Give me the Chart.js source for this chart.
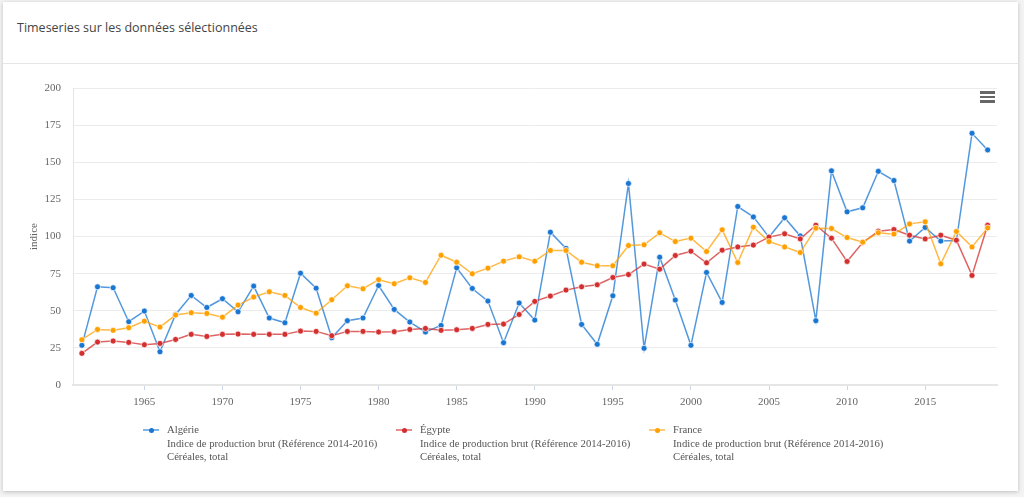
<!DOCTYPE html>
<html lang="fr">
<head>
<meta charset="utf-8">
<title>Timeseries sur les données sélectionnées</title>
<script src="https://cdn.jsdelivr.net/npm/chart.js@4.4.1/dist/chart.umd.min.js"></script>
<style>
  html, body { margin: 0; padding: 0; background: #f3f3f3; width: 1024px; height: 497px; overflow: hidden; }
  .card {
    position: absolute; left: 3px; top: 2px; width: 1015px; height: 489px;
    background: #fff; box-shadow: 0 1px 4px rgba(0,0,0,0.22);
  }
  .card h1 {
    position: absolute; left: 14px; top: 17px; margin: 0;
    font: 400 12.5px "Open Sans", sans-serif; color: #444;
  }
  .card .sep { position: absolute; left: 0; right: 0; top: 61px; height: 1px; background: #e6e6e6; }
  .chart-box { position: absolute; left: 0; top: 62px; width: 1015px; height: 360px; }
  .menu { position: absolute; left: 977px; top: 89px; width: 15px; }
  .menu i { display: block; height: 2.5px; background: #666; margin-bottom: 2px; }
  #legend { position: absolute; left: 0; top: 421px; width: 1015px; font: 10.7px "Liberation Serif", serif; color: #555; line-height: 13.5px; }
  .item { position: absolute; top: 0; }
  .mark { position: absolute; top: 6px; width: 16px; height: 2px; }
  .mark b { position: absolute; left: 5.5px; top: -1.5px; width: 5px; height: 5px; border-radius: 50%; }
  .txt { position: absolute; left: 24px; top: 0; white-space: nowrap; }
</style>
</head>
<body>
<div class="card">
  <h1>Timeseries sur les données sélectionnées</h1>
  <div class="sep"></div>
  <div class="chart-box"><canvas id="chart"></canvas></div>
  <div class="menu"><i></i><i></i><i></i></div>
  <div id="legend"></div>
</div>
<script>
const years = [];
for (let y = 1961; y <= 2019; y++) years.push(y);

const seriesNames = ['Algérie', 'Égypte', 'France'];
const seriesInfo = ['Indice de production brut (Référence 2014-2016)', 'Céréales, total'];
const seriesColors = ['#1976d2', '#d32f2f', '#ffa000'];

const algerie = [
  26.7, 66.1, 65.5, 42.6, 49.8, 22.4, 47.5, 60.3, 52.2, 58.1,
  49.3, 66.6, 45.1, 41.9, 75.3, 65.2, 31.8, 43.3, 45.1, 67.0,
  50.9, 42.4, 35.7, 40.1, 78.9, 65.0, 56.5, 28.5, 55.2, 43.7,
  102.9, 92.0, 40.8, 27.4, 60.1, 135.7, 24.7, 86.1, 57.2, 26.7,
  75.8, 55.6, 120.2, 113.2, 99.6, 112.6, 100.4, 43.3, 144.2, 116.6,
  119.3, 143.9, 137.7, 96.9, 106.1, 96.9, 97.3, 169.5, 158.3
];
const egypte = [
  21.3, 28.9, 29.6, 28.7, 27.1, 28.0, 30.7, 34.1, 32.7, 34.1,
  34.3, 34.1, 34.1, 34.1, 36.3, 36.1, 33.2, 36.1, 36.1, 35.7,
  35.9, 37.4, 38.1, 36.8, 37.2, 38.1, 40.8, 41.0, 47.5, 56.3,
  59.9, 63.9, 66.1, 67.5, 72.4, 74.4, 81.4, 78.0, 87.2, 90.1,
  82.3, 90.8, 93.0, 94.2, 99.6, 101.8, 98.4, 107.6, 98.9, 83.2,
  96.0, 103.6, 104.7, 100.9, 98.4, 100.9, 97.5, 73.8, 107.6
];
const france = [
  30.5, 37.4, 36.8, 38.6, 43.0, 39.0, 47.1, 48.7, 48.2, 45.7,
  53.8, 59.2, 62.8, 60.3, 52.2, 48.4, 57.4, 66.8, 64.8, 70.9,
  68.2, 72.2, 69.1, 87.4, 82.7, 74.9, 78.7, 83.4, 86.3, 83.4,
  90.6, 90.6, 82.7, 80.3, 80.3, 93.9, 94.4, 102.5, 96.6, 98.9,
  89.9, 104.5, 82.5, 106.3, 96.6, 93.0, 89.2, 105.6, 105.4, 99.3,
  96.2, 102.5, 101.6, 108.5, 109.9, 81.6, 103.4, 93.0, 105.8
];

const xTicks = [1965, 1970, 1975, 1980, 1985, 1990, 1995, 2000, 2005, 2010, 2015];
const yTicks = [0, 25, 50, 75, 100, 125, 150, 175, 200];
const yTitle = 'indice';

const allValues = [algerie, egypte, france];

function hexA(hex, a) {
  const n = parseInt(hex.slice(1), 16);
  return `rgba(${n >> 16},${(n >> 8) & 255},${n & 255},${a})`;
}

const datasets = seriesNames.map((name, i) => ({
  label: name,
  data: years.map((yr, k) => ({ x: yr, y: allValues[i][k] })),
  borderColor: hexA(seriesColors[i], 0.75),
  backgroundColor: seriesColors[i],
  pointBackgroundColor: seriesColors[i],
  pointBorderColor: 'rgba(255,255,255,0.7)',
  pointBorderWidth: 1,
  pointRadius: 3,
  borderWidth: 1.5,
  tension: 0,
  order: seriesNames.length - 1 - i
}));

const tickFont = { family: '"Liberation Serif", serif', size: 11 };

new Chart(document.getElementById('chart'), {
  type: 'line',
  data: { datasets },
  options: {
    responsive: true,
    maintainAspectRatio: false,
    animation: false,
    layout: { padding: { top: 24, right: 21, bottom: 0, left: 0 } },
    plugins: { legend: { display: false }, tooltip: { enabled: false } },
    scales: {
      x: {
        type: 'linear',
        min: 1960.43,
        max: 2019.6,
        afterBuildTicks: s => { s.ticks = xTicks.map(v => ({ value: v })); },
        afterFit: s => { s.height = 39; },
        grid: { drawOnChartArea: false, drawTicks: true, tickLength: 5, color: '#ccd6eb' },
        border: { display: true, color: '#e6e6e6', width: 2 },
        ticks: { font: tickFont, color: '#666', padding: 6, maxRotation: 0, callback: v => String(v) }
      },
      y: {
        min: 0,
        max: 200,
        afterBuildTicks: s => { s.ticks = yTicks.map(v => ({ value: v })); },
        afterFit: s => { s.width = 70; },
        grid: { color: '#ececec', drawTicks: false },
        border: { display: true, color: '#e6e6e6', width: 1 },
        ticks: { font: tickFont, color: '#666', padding: 12, callback: v => String(v) },
        title: { display: true, text: yTitle, font: tickFont, color: '#666', padding: { top: 25, bottom: 0 } }
      }
    }
  }
});

// legend built from the same series arrays
const legend = document.getElementById('legend');
const legendLeft = [140, 393, 646];
seriesNames.forEach((name, i) => {
  const item = document.createElement('div');
  item.className = 'item';
  item.style.left = legendLeft[i] + 'px';
  const mark = document.createElement('div');
  mark.className = 'mark';
  mark.style.background = hexA(seriesColors[i], 0.55);
  const dot = document.createElement('b');
  dot.style.background = seriesColors[i];
  mark.appendChild(dot);
  const txt = document.createElement('div');
  txt.className = 'txt';
  txt.innerHTML = [name].concat(seriesInfo).join('<br>');
  item.appendChild(mark);
  item.appendChild(txt);
  legend.appendChild(item);
});
</script>
</body>
</html>
